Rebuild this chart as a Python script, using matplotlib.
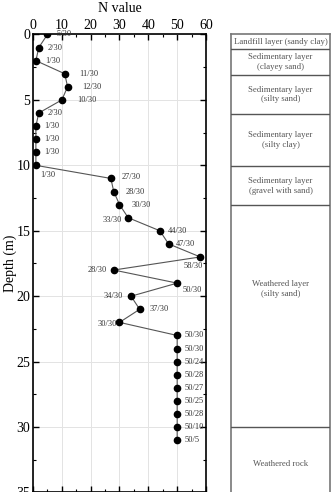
import numpy as np
import matplotlib.pyplot as plt
from matplotlib.ticker import MultipleLocator

plt.rcParams['font.family'] = ['Liberation Serif', 'DejaVu Serif']

# SPT data
depth = [0, 1, 2, 3, 4, 5, 6, 7, 8, 9, 10, 11, 12, 13, 14, 15, 16, 17, 18, 19, 20, 21, 22,
         23, 24, 25, 26, 27, 28, 29, 30, 31]
n_value = [5, 2, 1, 11, 12, 10, 2, 1, 1, 1, 1, 27, 28, 30, 33, 44, 47, 58, 28, 50, 34, 37, 30,
           50, 50, 50, 50, 50, 50, 50, 50, 50]
blow_labels = ['5/30', '2/30', '1/30', '11/30', '12/30', '10/30', '2/30', '1/30', '1/30', '1/30',
               '1/30', '27/30', '28/30', '30/30', '33/30', '44/30', '47/30', '58/30', '28/30',
               '50/30', '34/30', '37/30', '30/30', '50/30', '50/30', '50/24', '50/28', '50/27',
               '50/25', '50/28', '50/10', '50/5']

# soil layers
layer_names = ['Landfill layer (sandy clay)', 'Sedimentary layer\n(clayey sand)',
               'Sedimentary layer\n(silty sand)', 'Sedimentary layer\n(silty clay)',
               'Sedimentary layer\n(gravel with sand)', 'Weathered layer\n(silty sand)',
               'Weathered rock']
layer_top = [0, 1, 3, 6, 10, 13, 30]
layer_bottom = [1, 3, 6, 10, 13, 30, 36]

# label offsets in pixels (dx, dy, ha)
offsets = {}
for i in range(len(depth)):
    offsets[i] = (9, 0, 'left')
offsets[3] = offsets[4] = offsets[5] = (15, 0, 'left')
offsets[7] = offsets[8] = offsets[9] = (8, 0, 'left')
offsets[10] = (4, -10, 'left')
offsets[11] = (11, 1, 'left')
offsets[12] = offsets[13] = (12, 0, 'left')
offsets[14] = (-6, -2, 'right')
offsets[15] = (8, 0, 'left')
offsets[16] = (7, 0, 'left')
offsets[17] = (3, -9, 'right')
offsets[18] = (-7, 0, 'right')
offsets[19] = (5, -7, 'left')
offsets[20] = (-8, 0, 'right')
offsets[21] = (10, 0, 'left')
offsets[22] = (-3, -2, 'right')
for i in range(23, 32):
    offsets[i] = (7, 0, 'left')

fig = plt.figure(figsize=(3.31, 4.92), dpi=100)
ax = fig.add_axes([33 / 331, -0.001, 173 / 331, 458 / 492])

ax.plot(n_value, depth, color='#555555', lw=0.8, zorder=2)
ax.plot(n_value, depth, 'o', color='black', ms=4.5, zorder=3)
for i, (n, d, lab) in enumerate(zip(n_value, depth, blow_labels)):
    dx, dy, ha = offsets[i]
    ax.annotate(lab, (n, d), xytext=(dx, dy), textcoords='offset pixels',
                ha=ha, va='center', fontsize=6, color='#333333')

ax.set_xlim(0, 60)
ax.set_ylim(35, 0)
ax.xaxis.tick_top()
ax.xaxis.set_label_position('top')
ax.set_xlabel('N value', fontsize=10, labelpad=5)
ax.set_ylabel('Depth (m)', fontsize=10)
ax.yaxis.set_label_coords(-0.095, 0.5)
ax.xaxis.set_major_locator(MultipleLocator(10))
ax.xaxis.set_minor_locator(MultipleLocator(5))
ax.yaxis.set_major_locator(MultipleLocator(5))
ax.yaxis.set_minor_locator(MultipleLocator(2.5))
ax.tick_params(which='both', direction='in', top=True, bottom=True, left=True, right=True,
               labelsize=10, pad=2)
ax.tick_params(which='major', length=4, width=1)
ax.tick_params(which='minor', length=2.5, width=0.8)
ax.grid(True, which='major', color='#e3e3e3', lw=0.7)
for s in ax.spines.values():
    s.set_linewidth(1.2)

# layer column
ax2 = fig.add_axes([231 / 331, -0.001, 99 / 331, 458 / 492])
ax2.set_xlim(0, 1)
ax2.set_ylim(35, -0.1)
ax2.axis('off')
ax2.plot([0, 0], [-0.1, 36], color='#777777', lw=1.2, clip_on=False)
ax2.plot([1, 1], [-0.1, 36], color='#777777', lw=1.2, clip_on=False)
ax2.plot([0, 1], [-0.1, -0.1], color='#777777', lw=1.2, clip_on=False)
for name, top, bot in zip(layer_names, layer_top, layer_bottom):
    if top > 0:
        ax2.plot([0, 1], [top, top], color='#555555', lw=1.0)
    mid = (top + min(bot, 35)) / 2
    if name == 'Weathered layer\n(silty sand)':
        mid = 19.4
    if name == 'Weathered rock':
        mid = 32.8
    ax2.text(0.5, mid, name, ha='center', va='center', fontsize=6.3, color='#555555',
             linespacing=1.3)

fig.savefig('out.png', dpi=100)
